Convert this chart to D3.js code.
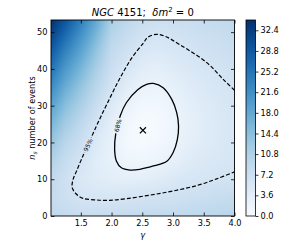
<!DOCTYPE html>
<html><head><meta charset="utf-8">
<script src="https://cdn.jsdelivr.net/npm/d3@7"></script>
<style>
body{margin:0;background:#fff;}
svg{display:block;}
text{font-family:"DejaVu Sans",sans-serif;fill:#000;}
</style>
</head><body>
<svg id="chart" width="294" height="252"></svg>
<script>
// ---- data ----
const gammaGrid = [1.0, 1.25, 1.5, 1.75, 2.0, 2.25, 2.5, 2.75, 3.0, 3.25, 3.5, 3.75, 4.0];
const nsGrid = [0, 5, 10, 15, 20, 25, 30, 35, 40, 45, 50, 55];
// one row per gamma value, one entry per ns value
const tsValues = [
  [9.0, 8.5, 9.0, 11.0, 13.5, 16.3, 19.3, 22.5, 25.8, 29.0, 32.3, 35.8],
  [8.4, 7.2, 7.0, 8.0, 9.8, 12.0, 14.5, 17.3, 20.3, 23.5, 27.0, 30.5],
  [8.0, 6.1, 5.0, 6.1, 7.5, 9.2, 11.2, 13.4, 16.0, 18.8, 21.8, 25.0],
  [8.0, 5.7, 4.1, 3.9, 4.6, 6.2, 7.8, 9.6, 11.5, 13.7, 16.2, 19.0],
  [8.2, 5.6, 3.6, 2.7, 2.6, 3.3, 4.6, 6.2, 7.4, 8.7, 10.2, 12.0],
  [8.3, 6.0, 3.3, 1.6, 0.85, 1.1, 2.3, 3.8, 5.3, 6.9, 8.3, 9.8],
  [8.5, 6.4, 3.4, 1.4, 0.25, 0.1, 1.0, 2.4, 3.8, 5.3, 6.8, 8.3],
  [8.7, 6.6, 4.0, 2.0, 0.8, 0.4, 0.9, 2.0, 3.3, 4.8, 6.2, 7.7],
  [8.8, 6.7, 4.9, 2.8, 1.7, 1.5, 1.9, 2.9, 4.1, 5.3, 6.6, 8.0],
  [9.0, 7.3, 5.5, 4.1, 3.1, 2.8, 3.1, 3.9, 4.9, 5.9, 7.0, 8.2],
  [9.3, 7.6, 5.8, 4.8, 4.1, 3.9, 4.2, 4.9, 5.5, 6.6, 7.6, 8.7],
  [9.6, 8.0, 6.2, 5.3, 4.9, 4.8, 5.1, 5.6, 6.2, 7.1, 8.0, 9.0],
  [9.9, 8.4, 6.3, 5.8, 5.45, 5.45, 5.7, 6.1, 6.8, 7.6, 8.5, 9.4]
];
const contour95 = [[4.0,34.2],[3.82,37.1],[3.55,41.7],[3.11,46.6],[2.88,48.8],[2.73,49.4],[2.59,48.6],[2.52,47.1],[2.33,43.0],[2.14,37.6],[1.95,31.3],[1.78,25.4],[1.62,19.5],[1.51,15.4],[1.43,12.2],[1.375,10.0],[1.36,7.7],[1.43,5.9],[1.54,4.8],[1.76,4.35],[1.97,4.26],[2.24,4.7],[2.63,5.7],[3.0,6.8],[3.39,8.3],[3.71,10.1],[4.0,12.0]];
const contour68 = [[2.68,36.05],[2.84,34.9],[2.98,31.7],[3.06,28.1],[3.09,24.5],[3.07,20.8],[3.0,17.2],[2.9,14.9],[2.68,13.6],[2.46,12.7],[2.30,12.5],[2.16,13.1],[2.08,14.9],[2.05,18.1],[2.07,22.6],[2.14,27.2],[2.24,30.8],[2.43,34.4],[2.57,35.8]];
const contourLabels = [
  {text:"95%", at:[1.62,19.3], along:[[1.51,15.4],[1.78,25.4]]},
  {text:"68%", at:[2.105,24.6], along:[[2.07,22.6],[2.14,27.2]]}
];
const bestFit = [2.51, 23.3];
const gammaTicks = [1.5, 2.0, 2.5, 3.0, 3.5, 4.0];
const nsTicks = [0, 10, 20, 30, 40, 50];
const cbarTicks = [0.0, 3.6, 7.2, 10.8, 14.4, 18.0, 21.6, 25.2, 28.8, 32.4];
const gammaExtent = [1.015, 4.0];
const nsExtent = [0, 53.3];
const cbarExtent = [0, 34.2];

// ---- layout ----
const P = {l:51, r:234.5, t:20, b:216};
const CB = {l:246, r:255.5, t:20, b:216};
const svg = d3.select("#chart");
const x = d3.scaleLinear().domain(gammaExtent).range([P.l, P.r]);
const y = d3.scaleLinear().domain(nsExtent).range([P.b, P.t]);
const color = d3.scaleSequential(d3.interpolateBlues).domain(cbarExtent);

// bilinear lookup in the value grid (rendering only)
function lookup(g, n) {
  let i = Math.max(0, Math.min(gammaGrid.length - 2, d3.bisectRight(gammaGrid, g) - 1));
  let j = Math.max(0, Math.min(nsGrid.length - 2, d3.bisectRight(nsGrid, n) - 1));
  const tx = (g - gammaGrid[i]) / (gammaGrid[i+1] - gammaGrid[i]);
  const ty = (n - nsGrid[j]) / (nsGrid[j+1] - nsGrid[j]);
  const a = tsValues[i][j], b = tsValues[i+1][j], c = tsValues[i][j+1], d = tsValues[i+1][j+1];
  return a*(1-tx)*(1-ty) + b*tx*(1-ty) + c*(1-tx)*ty + d*tx*ty;
}

// heatmap image
const W = Math.round(P.r - P.l), H = Math.round(P.b - P.t);
const cv = document.createElement("canvas");
cv.width = W; cv.height = H;
const ctx = cv.getContext("2d");
const img = ctx.createImageData(W, H);
for (let py = 0; py < H; py++) {
  for (let px = 0; px < W; px++) {
    const g = x.invert(P.l + (px + 0.5) * (P.r - P.l) / W);
    const n = y.invert(P.t + (py + 0.5) * (P.b - P.t) / H);
    const c = d3.rgb(color(lookup(g, n)));
    const k = (py * W + px) * 4;
    img.data[k] = c.r; img.data[k+1] = c.g; img.data[k+2] = c.b; img.data[k+3] = 255;
  }
}
ctx.putImageData(img, 0, 0);
svg.append("image").attr("x", P.l).attr("y", P.t).attr("width", P.r - P.l).attr("height", P.b - P.t)
  .attr("preserveAspectRatio", "none").attr("href", cv.toDataURL());

// clip + mask for contour labels
const defs = svg.append("defs");
defs.append("clipPath").attr("id", "clip").append("rect")
  .attr("x", P.l).attr("y", P.t).attr("width", P.r - P.l).attr("height", P.b - P.t);
const mask = defs.append("mask").attr("id", "lblmask").attr("maskUnits", "userSpaceOnUse")
  .attr("x", 0).attr("y", 0).attr("width", 294).attr("height", 252);
mask.append("rect").attr("x", 0).attr("y", 0).attr("width", 294).attr("height", 252).attr("fill", "#fff");
contourLabels.forEach(L => {
  const dx = x(L.along[1][0]) - x(L.along[0][0]);
  const dy = y(L.along[1][1]) - y(L.along[0][1]);
  L.angle = Math.atan2(dy, dx) * 180 / Math.PI;
  L.px = x(L.at[0]); L.py = y(L.at[1]);
  mask.append("rect").attr("x", -8).attr("y", -3.5).attr("width", 16).attr("height", 7)
    .attr("fill", "#000").attr("transform", `translate(${L.px},${L.py}) rotate(${L.angle})`);
});

const cg = svg.append("g").attr("clip-path", "url(#clip)").append("g").attr("mask", "url(#lblmask)");
const lineOpen = d3.line().x(d => x(d[0])).y(d => y(d[1])).curve(d3.curveCatmullRom.alpha(0.5));
const lineClosed = d3.line().x(d => x(d[0])).y(d => y(d[1])).curve(d3.curveCatmullRomClosed.alpha(0.5));
cg.append("path").attr("d", lineOpen(contour95)).attr("fill", "none").attr("stroke", "#000")
  .attr("stroke-width", 1.2).attr("stroke-dasharray", "4,2");
cg.append("path").attr("d", lineClosed(contour68)).attr("fill", "none").attr("stroke", "#000")
  .attr("stroke-width", 1.3);

contourLabels.forEach(L => {
  svg.append("text").attr("transform", `translate(${L.px},${L.py}) rotate(${L.angle})`)
    .attr("text-anchor", "middle").attr("dy", "0.35em").attr("font-size", 6).attr("fill", "#000").text(L.text);
});

// best fit marker
svg.append("path").attr("d", d3.symbol(d3.symbolX, 26)())
  .attr("transform", `translate(${x(bestFit[0])},${y(bestFit[1])})`)
  .attr("fill", "none").attr("stroke", "#000").attr("stroke-width", 1.2);

// axes (inward ticks on all sides)
const fs = 8.2;
const fmt1 = d3.format(".1f");
const ax = svg.append("g").attr("transform", `translate(0,${P.b})`)
  .call(d3.axisBottom(x).tickValues(gammaTicks).tickFormat(fmt1).tickSize(-3.5).tickPadding(4.5));
const axT = svg.append("g").attr("transform", `translate(0,${P.t})`)
  .call(d3.axisTop(x).tickValues(gammaTicks).tickFormat("").tickSize(-3.5));
const ay = svg.append("g").attr("transform", `translate(${P.l},0)`)
  .call(d3.axisLeft(y).tickValues(nsTicks).tickFormat(d3.format("d")).tickSize(-3.5).tickPadding(3.5));
const ayR = svg.append("g").attr("transform", `translate(${P.r},0)`)
  .call(d3.axisRight(y).tickValues(nsTicks).tickFormat("").tickSize(-3.5));
[ax, axT, ay, ayR].forEach(g => {
  g.select(".domain").remove();
  g.selectAll("line").attr("stroke", "#000").attr("stroke-width", 0.8);
  g.selectAll("text").attr("font-size", fs).attr("font-family", "DejaVu Sans").attr("fill", "#000");
});
svg.append("rect").attr("x", P.l).attr("y", P.t).attr("width", P.r - P.l).attr("height", P.b - P.t)
  .attr("fill", "none").attr("stroke", "#000").attr("stroke-width", 0.9);

// colorbar
const cy = d3.scaleLinear().domain(cbarExtent).range([CB.b, CB.t]);
const grad = defs.append("linearGradient").attr("id", "cbg").attr("x1", 0).attr("y1", 1).attr("x2", 0).attr("y2", 0);
d3.range(0, 1.0001, 0.02).forEach(t => {
  grad.append("stop").attr("offset", t).attr("stop-color", color(cbarExtent[0] + t * (cbarExtent[1] - cbarExtent[0])));
});
svg.append("rect").attr("x", CB.l).attr("y", CB.t).attr("width", CB.r - CB.l).attr("height", CB.b - CB.t)
  .attr("fill", "url(#cbg)").attr("stroke", "#000").attr("stroke-width", 0.8);
const cax = svg.append("g").attr("transform", `translate(${CB.r},0)`)
  .call(d3.axisRight(cy).tickValues(cbarTicks).tickFormat(fmt1).tickSize(3).tickPadding(2));
cax.select(".domain").remove();
cax.selectAll("line").attr("stroke", "#000").attr("stroke-width", 0.8);
cax.selectAll("text").attr("font-size", fs).attr("font-family", "DejaVu Sans").attr("fill", "#000");

// titles / labels
const title = svg.append("text").attr("x", (P.l + P.r) / 2).attr("y", 16).attr("text-anchor", "middle")
  .attr("font-size", 10).attr("fill", "#000");
title.append("tspan").attr("font-style", "italic").text("NGC");
title.append("tspan").text("\u00a04151;\u00a0\u00a0");
title.append("tspan").attr("font-style", "italic").text("δm");
title.append("tspan").attr("font-size", 7).attr("dy", -4).text("2");
title.append("tspan").attr("dy", 4).text("\u00a0=\u00a00");

svg.append("text").attr("x", (P.l + P.r) / 2).attr("y", 238).attr("text-anchor", "middle")
  .attr("font-size", fs).attr("font-style", "italic").attr("fill", "#000").text("γ");

const yl = svg.append("text").attr("transform", `translate(35,${(P.t + P.b) / 2}) rotate(-90)`)
  .attr("text-anchor", "middle").attr("font-size", fs).attr("fill", "#000");
yl.append("tspan").attr("font-style", "italic").text("n");
yl.append("tspan").attr("font-style", "italic").attr("font-size", 6).attr("dy", 2).text("s");
yl.append("tspan").attr("dy", -2).text(" number of events");
</script>
</body></html>
